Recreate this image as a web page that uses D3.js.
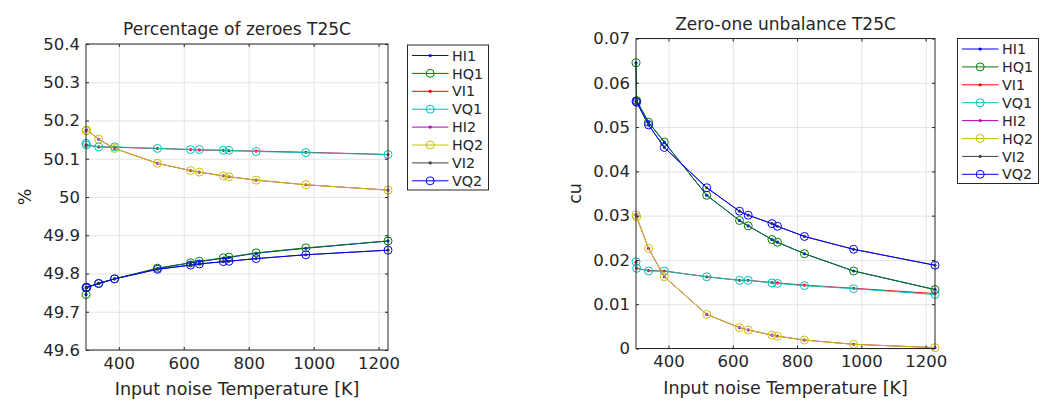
<!DOCTYPE html>
<meta charset="utf-8">
<style>
  html, body { margin:0; background:#fff; overflow:hidden; }
  svg text { font-family: "DejaVu Sans", sans-serif; fill:#262626; }
</style>
<svg width="1043" height="406"></svg>
<script src="https://cdn.jsdelivr.net/npm/d3@7/dist/d3.min.js"></script>
<script>

// input noise temperature [K]
var temps = [299, 301, 338, 387, 519, 621, 648, 722, 739, 823, 976, 1229];
var xTicks = [400, 600, 800, 1000, 1200];

var names   = ["HI1", "HQ1", "VI1", "VQ1", "HI2", "HQ2", "VI2", "VQ2"];
var colors  = ["#0000ff", "#008000", "#ff0000", "#00bfbf", "#bf00bf", "#c4c400", "#404040", "#0000ff"];
var markers = ["dot", "circle", "dot", "circle", "dot", "circle", "dot", "circle"];

// percentage of zeroes [%]
var zerosHI1 = [49.745, 49.763, 49.774, 49.786, 49.813, 49.828, 49.831, 49.840, 49.842, 49.853, 49.866, 49.885];
var zerosHQ1 = [49.745, 49.763, 49.774, 49.786, 49.814, 49.828, 49.832, 49.841, 49.843, 49.854, 49.867, 49.885];
var zerosVI1 = [50.136, 50.136, 50.131, 50.130, 50.127, 50.124, 50.123, 50.122, 50.121, 50.120, 50.117, 50.111];
var zerosVQ1 = [50.140, 50.136, 50.131, 50.131, 50.127, 50.124, 50.124, 50.122, 50.122, 50.119, 50.116, 50.111];
var zerosHI2 = [50.173, 50.175, 50.151, 50.127, 50.088, 50.069, 50.065, 50.055, 50.053, 50.044, 50.032, 50.018];
var zerosHQ2 = [50.173, 50.175, 50.151, 50.127, 50.088, 50.069, 50.065, 50.055, 50.053, 50.044, 50.032, 50.018];
var zerosVI2 = [49.763, 49.764, 49.774, 49.786, 49.811, 49.822, 49.825, 49.831, 49.832, 49.839, 49.849, 49.861];
var zerosVQ2 = [49.763, 49.764, 49.774, 49.786, 49.811, 49.822, 49.825, 49.831, 49.832, 49.839, 49.849, 49.861];
var zerosTicks = [49.6, 49.7, 49.8, 49.9, 50, 50.1, 50.2, 50.3, 50.4];

// zero-one unbalance [cu]
var unbalHI1 = [0.0645, 0.0560, 0.0511, 0.0466, 0.0346, 0.0289, 0.0277, 0.0246, 0.0240, 0.0214, 0.0175, 0.0133];
var unbalHQ1 = [0.0645, 0.0560, 0.0511, 0.0466, 0.0346, 0.0289, 0.0277, 0.0246, 0.0240, 0.0214, 0.0175, 0.0133];
var unbalVI1 = [0.0195, 0.0181, 0.0176, 0.0175, 0.0162, 0.0154, 0.0154, 0.0149, 0.0148, 0.0143, 0.0136, 0.0124];
var unbalVQ1 = [0.0196, 0.0181, 0.0175, 0.0175, 0.0162, 0.0154, 0.0154, 0.0148, 0.0147, 0.0142, 0.0135, 0.0122];
var unbalHI2 = [0.0302, 0.0297, 0.0226, 0.0162, 0.0077, 0.0047, 0.0042, 0.0030, 0.0028, 0.0019, 0.00095, 0.0002];
var unbalHQ2 = [0.0302, 0.0297, 0.0226, 0.0162, 0.0077, 0.0047, 0.0042, 0.0030, 0.0028, 0.0019, 0.00095, 0.0002];
var unbalVI2 = [0.0558, 0.0556, 0.0505, 0.0454, 0.0363, 0.0310, 0.0301, 0.0282, 0.0276, 0.0253, 0.0224, 0.0188];
var unbalVQ2 = [0.0558, 0.0556, 0.0505, 0.0454, 0.0363, 0.0310, 0.0301, 0.0282, 0.0276, 0.0253, 0.0224, 0.0188];
var unbalTicks = [0, 0.01, 0.02, 0.03, 0.04, 0.05, 0.06, 0.07];

var svg = d3.select("svg");

function panel(opt) {
  var x = d3.scaleLinear().domain(d3.extent(temps)).range([opt.left, opt.right]);
  var y = d3.scaleLinear().domain(d3.extent(opt.yTicks)).range([opt.bottom, opt.top]);
  var w = opt.right - opt.left, h = opt.bottom - opt.top;
  var fmt = function(d) { return String(+d.toFixed(3)); };
  var g = svg.append("g");

  // grid
  g.append("g").attr("transform", "translate(0," + opt.bottom + ")")
      .call(d3.axisBottom(x).tickValues(xTicks).tickSize(-h).tickFormat(""))
      .call(function(s) { s.select(".domain").remove(); s.selectAll("line").attr("stroke", "#e3e3e3"); });
  g.append("g").attr("transform", "translate(" + opt.left + ",0)")
      .call(d3.axisLeft(y).tickValues(opt.yTicks).tickSize(-w).tickFormat(""))
      .call(function(s) { s.select(".domain").remove(); s.selectAll("line").attr("stroke", "#e3e3e3"); });

  // series
  opt.series.forEach(function(vals, i) {
    var pts = temps.map(function(t, j) { return [t, vals[j]]; });
    g.append("path")
        .datum(pts)
        .attr("fill", "none")
        .attr("stroke", colors[i])
        .attr("stroke-width", 1)
        .attr("d", d3.line().x(function(d) { return x(d[0]); }).y(function(d) { return y(d[1]); }));
    if (markers[i] === "dot") {
      g.selectAll(null).data(pts).enter().append("circle")
          .attr("cx", function(d) { return x(d[0]); })
          .attr("cy", function(d) { return y(d[1]); })
          .attr("r", 1.6)
          .attr("fill", colors[i]);
    } else {
      g.selectAll(null).data(pts).enter().append("circle")
          .attr("cx", function(d) { return x(d[0]); })
          .attr("cy", function(d) { return y(d[1]); })
          .attr("r", 4)
          .attr("fill", "none")
          .attr("stroke", colors[i])
          .attr("stroke-width", 1);
    }
  });

  // axes
  var ax = g.append("g");
  ax.append("g").attr("transform", "translate(0," + opt.bottom + ")")
      .call(d3.axisBottom(x).tickValues(xTicks).tickSize(-3).tickPadding(7).tickFormat(d3.format("d")));
  ax.append("g").attr("transform", "translate(0," + opt.top + ")")
      .call(d3.axisTop(x).tickValues(xTicks).tickSize(-3).tickFormat(""));
  ax.append("g").attr("transform", "translate(" + opt.left + ",0)")
      .call(d3.axisLeft(y).tickValues(opt.yTicks).tickSize(-3).tickPadding(6).tickFormat(fmt));
  ax.append("g").attr("transform", "translate(" + opt.right + ",0)")
      .call(d3.axisRight(y).tickValues(opt.yTicks).tickSize(-3).tickFormat(""));
  ax.selectAll(".domain").remove();
  ax.selectAll("line").attr("stroke", "#262626");
  ax.selectAll("text").attr("fill", "#262626")
      .attr("font-family", "DejaVu Sans, sans-serif").attr("font-size", 16.5);
  g.append("rect")
      .attr("x", opt.left).attr("y", opt.top).attr("width", w).attr("height", h)
      .attr("fill", "none").attr("stroke", "#262626").attr("stroke-width", 1);

  // labels
  g.append("text")
      .attr("x", (opt.left + opt.right) / 2).attr("y", opt.top - 9)
      .attr("text-anchor", "middle").attr("font-size", 17)
      .text(opt.title);
  g.append("text")
      .attr("x", (opt.left + opt.right) / 2).attr("y", opt.bottom + 45)
      .attr("text-anchor", "middle").attr("font-size", 17.5)
      .text("Input noise Temperature [K]");
  g.append("text")
      .attr("transform", "translate(" + opt.yLabelX + "," + (opt.top + opt.bottom) / 2 + ") rotate(-90)")
      .attr("text-anchor", "middle").attr("dy", "0.35em").attr("font-size", 17.5)
      .text(opt.yLabel);

  // legend
  var lg = svg.append("g").attr("transform", "translate(" + opt.legX + "," + opt.legY + ")");
  lg.append("rect").attr("width", 81).attr("height", 145)
      .attr("fill", "#fff").attr("stroke", "#262626").attr("stroke-width", 1);
  names.forEach(function(n, i) {
    var yy = 10.5 + i * 17.9;
    lg.append("line").attr("x1", 4.5).attr("x2", 41).attr("y1", yy).attr("y2", yy)
        .attr("stroke", colors[i]).attr("stroke-width", 1);
    if (markers[i] === "dot") {
      lg.append("circle").attr("cx", 22.7).attr("cy", yy).attr("r", 1.6).attr("fill", colors[i]);
    } else {
      lg.append("circle").attr("cx", 22.7).attr("cy", yy).attr("r", 4)
          .attr("fill", "none").attr("stroke", colors[i]);
    }
    lg.append("text").attr("x", 44.5).attr("y", yy).attr("dy", "0.36em")
        .attr("font-size", 14.3).text(n);
  });
}

panel({
  left: 86, right: 388, top: 44, bottom: 350,
  yTicks: zerosTicks, yLabel: "%", yLabelX: 25,
  title: "Percentage of zeroes T25C",
  series: [zerosHI1, zerosHQ1, zerosVI1, zerosVQ1, zerosHI2, zerosHQ2, zerosVI2, zerosVQ2],
  legX: 407.5, legY: 45
});

panel({
  left: 636, right: 935, top: 38.5, bottom: 348.5,
  yTicks: unbalTicks, yLabel: "cu", yLabelX: 575,
  title: "Zero-one unbalance T25C",
  series: [unbalHI1, unbalHQ1, unbalVI1, unbalVQ1, unbalHI2, unbalHQ2, unbalVI2, unbalVQ2],
  legX: 957.5, legY: 38.5
});

</script>
